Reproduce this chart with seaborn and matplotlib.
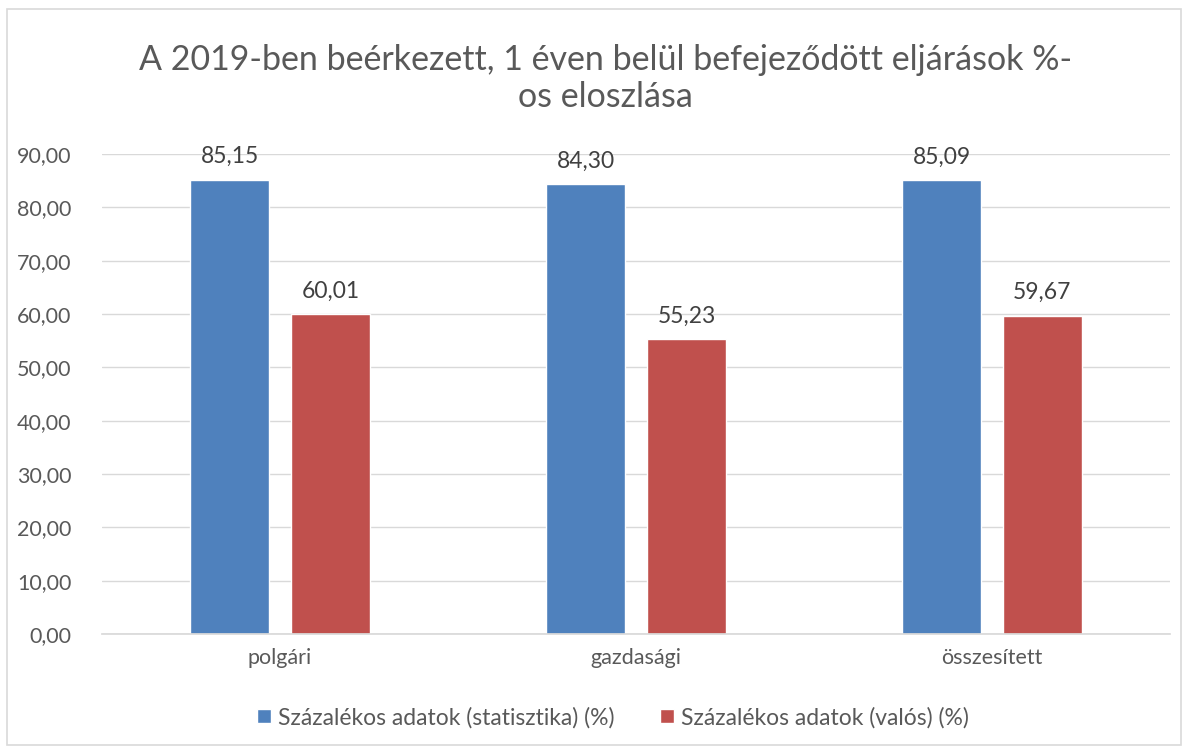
import matplotlib
matplotlib.use("Agg")
import matplotlib.pyplot as plt
import pandas as pd
import seaborn as sns
from matplotlib.patches import Rectangle

categories = ["polgári", "gazdasági", "összesített"]
series_names = ["Százalékos adatok (statisztika) (%)", "Százalékos adatok (valós) (%)"]
stat_values = [85.15, 84.30, 85.09]
real_values = [60.01, 55.23, 59.67]
y_ticks = [0, 10, 20, 30, 40, 50, 60, 70, 80, 90]
colors = ["#4F81BD", "#C0504D"]

df = pd.DataFrame({
    "category": categories * 2,
    "series": [series_names[0]] * 3 + [series_names[1]] * 3,
    "value": stat_values + real_values,
})

sns.set_theme(style="white")
plt.rcParams["font.family"] = ["Lato", "DejaVu Sans"]
text_color = "#595959"

fig = plt.figure(figsize=(11.88, 7.49), dpi=100)
fig.patches.append(Rectangle((0.006, 0.005), 0.988, 0.983, transform=fig.transFigure,
                             fill=False, edgecolor="#D9D9D9", linewidth=1.2))
ax = fig.add_axes([0.0859, 0.1535, 0.899, 0.641])

sns.barplot(data=df, x="category", y="value", hue="series", palette=colors,
            width=0.566, gap=0.21, saturation=1, ax=ax, legend=True)

for container in ax.containers:
    ax.bar_label(container, labels=[f"{v:.2f}".replace(".", ",") for v in container.datavalues],
                 padding=9, fontsize=16.5, color="#404040")

ax.set_ylim(0, 90)
ax.set_xlim(-0.5, 2.5)
ax.set_yticks(y_ticks)
ax.set_yticklabels([f"{t:.2f}".replace(".", ",") for t in y_ticks], fontsize=15.5, color=text_color)
ax.tick_params(axis="x", labelsize=15.5, labelcolor=text_color, length=0, pad=10)
ax.tick_params(axis="y", length=0, pad=22)
ax.yaxis.grid(True, color="#D9D9D9", linewidth=1)
ax.set_axisbelow(True)
for side in ["top", "right", "left"]:
    ax.spines[side].set_visible(False)
ax.spines["bottom"].set_color("#D9D9D9")
ax.set_xlabel("")
ax.set_ylabel("")

fig.text(0.51, 0.895, "A 2019-ben beérkezett, 1 éven belül befejeződött eljárások %-\nos eloszlása",
         ha="center", va="center", fontsize=24.5, color=text_color, linespacing=1.2)

ax.legend_.remove()
handles, labels = ax.get_legend_handles_labels()
fig.legend(handles, labels, loc="center", bbox_to_anchor=(0.516, 0.042), ncol=2,
           frameon=False, fontsize=16.5, labelcolor=text_color, handlelength=0.6,
           handleheight=0.6, handletextpad=0.3, columnspacing=2.0)

fig.savefig("out.png", dpi=100)
